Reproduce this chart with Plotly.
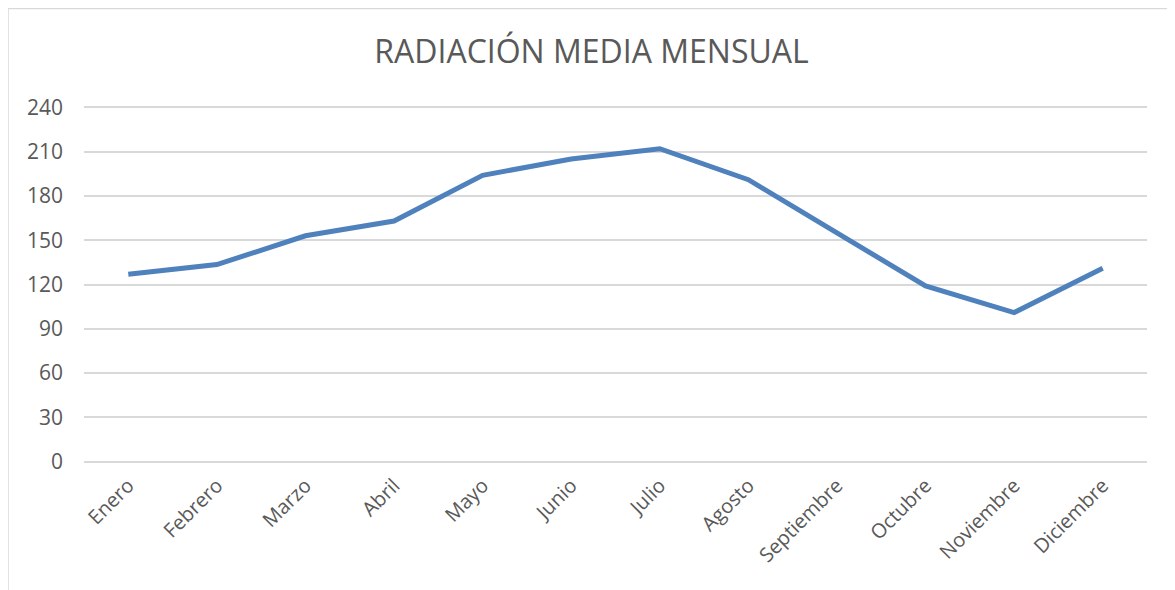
import plotly.graph_objects as go

meses = ["Enero", "Febrero", "Marzo", "Abril", "Mayo", "Junio", "Julio",
         "Agosto", "Septiembre", "Octubre", "Noviembre", "Diciembre"]
radiacion = [127, 133.5, 153, 163, 194, 205, 212, 191, 155, 119, 101, 131]
y_ticks = [0, 30, 60, 90, 120, 150, 180, 210, 240]

# page body adds an 8px margin, so the figure is sized/offset for it
W, H = 1167, 582
px_per_unit = 1.4775
y_lo, y_hi = -3, 243
L = 76
pw = 1063
ph = (y_hi - y_lo) * px_per_unit
T = 99 - (y_hi - 240) * px_per_unit
R = W - L - pw
B = H - T - ph

fig = go.Figure()
fig.add_trace(go.Scatter(
    x=meses, y=radiacion, mode="lines",
    line=dict(color="#4F81BD", width=5),
    hoverinfo="x+y", showlegend=False,
))

font_color = "#595959"
fig.update_layout(
    width=W, height=H,
    margin=dict(l=L, r=R, t=T, b=B, pad=0),
    paper_bgcolor="white", plot_bgcolor="white",
    title=dict(text="RADIACIÓN MEDIA MENSUAL", x=0.5, xanchor="center",
               y=1 - 44 / H, yanchor="middle",
               font=dict(family="Open Sans", size=32, color=font_color)),
    font=dict(family="Open Sans", size=20, color=font_color),
    xaxis=dict(type="category", range=[-0.5, 11.5], tickangle=-45,
               showgrid=False, showline=False, zeroline=False, ticks="",
               ticklabelstandoff=3,
               tickfont=dict(size=20, color=font_color)),
    yaxis=dict(range=[y_lo, y_hi], tickvals=y_ticks, showgrid=True,
               gridcolor="#D9D9D9", gridwidth=1.5, zeroline=False,
               showline=False, ticks="", ticklabelstandoff=20,
               tickfont=dict(size=21, color=font_color)),
    shapes=[dict(type="rect", xref="paper", yref="paper",
                 x0=(0 - L) / pw, x1=(W + 20 - L) / pw,
                 y0=-(B + 20) / ph, y1=1 + T / ph,
                 line=dict(color="#D9D9D9", width=1.5),
                 fillcolor="rgba(0,0,0,0)", layer="below")],
)

fig.write_html("out.html")
